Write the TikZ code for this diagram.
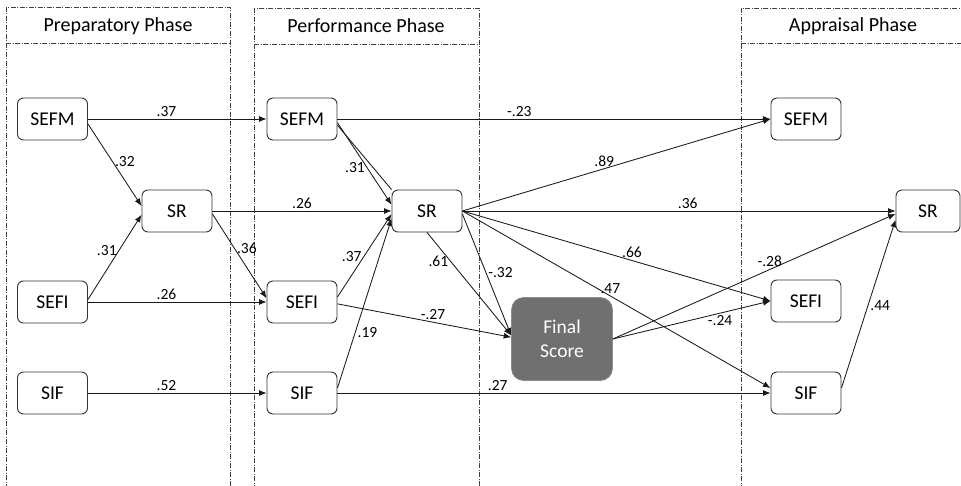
\documentclass[tikz,border=0pt]{standalone}
\usepackage{fontspec}
\setmainfont{Carlito}
\usetikzlibrary{arrows.meta}
\begin{document}
\begin{tikzpicture}[x=1pt,y=-1pt,
  phase/.style={draw=black!75, line width=0.8pt, dash pattern=on 5pt off 1.5pt on 1pt off 1.5pt},
  var/.style={draw=black!80, line width=0.9pt, rounded corners=6pt, minimum width=70pt, minimum height=42pt, inner sep=0pt, font=\fontsize{19.5}{23}\selectfont, text=black},
  fin/.style={draw=black!45, fill={rgb,255:red,112;green,112;blue,112}, line width=0.6pt, rounded corners=12pt, minimum width=101pt, minimum height=83pt, inner sep=0pt, align=center, font=\fontsize{19.5}{23.5}\selectfont, text=white},
  arr/.style={draw=black!90, line width=0.85pt, -{Latex[length=7.5pt,width=6pt]}},
  plain/.style={draw=black!90, line width=0.85pt},
  lbl/.style={font=\fontsize{15.5}{18}\selectfont, inner sep=2pt, text=black},
  hdr/.style={font=\fontsize{20}{24}\selectfont, text=black, inner sep=0pt}
]
\useasboundingbox (0,0) rectangle (961,486);
% phase frames
\draw[phase] (6,7) rectangle (230,490);
\draw[phase] (6,43) -- (230,43);
\draw[phase] (254,8) rectangle (479,490);
\draw[phase] (254,44) -- (479,44);
\draw[phase] (741,8) rectangle (970,490);
\draw[phase] (741,43) -- (970,43);
\node[hdr] (hPrep) at (118,26) {Preparatory Phase};
\node[hdr] (hPerf) at (366,26) {Performance Phase};
\node[hdr] (hApp) at (853,26) {Appraisal Phase};
% nodes
\node[var] (pSEFM) at (52.5,119) {SEFM};
\node[var] (pSR) at (177,211) {SR};
\node[var] (pSEFI) at (52.5,302) {SEFI};
\node[var] (pSIF) at (52.5,393) {SIF};
\node[var] (qSEFM) at (302,119) {SEFM};
\node[var] (qSR) at (427,211) {SR};
\node[var] (qSEFI) at (302,302) {SEFI};
\node[var] (qSIF) at (302,393) {SIF};
\node[fin] (fin) at (562,339) {Final\\Score};
\node[var] (aSEFM) at (806,119) {SEFM};
\node[var, minimum width=64pt] (aSR) at (928,211) {SR};
\node[var] (aSEFI) at (806,301) {SEFI};
\node[var] (aSIF) at (806,393) {SIF};
% edges
\draw[arr] (pSEFM.east) -- node[lbl,pos=0.44,above] (l1) {.37} (qSEFM.west);
\draw[arr] (pSEFM.-8) -- node[lbl,pos=0.46,right] (l2) {.32} (pSR.172);
\draw[arr] (pSEFI.4) -- node[lbl,pos=0.58,left] (l3) {.31} (pSR.186);
\draw[arr] (pSEFI.east) -- node[lbl,pos=0.44,above] (l4) {.26} (qSEFI.west);
\draw[arr] (pSR.east) -- node[lbl,pos=0.5,above] (l5) {.26} (qSR.west);
\draw[arr] (pSR.-5) -- node[lbl,pos=0.41,right] (l6) {.36} (qSEFI.174);
\draw[arr] (pSIF.east) -- node[lbl,pos=0.44,above] (l7) {.52} (qSIF.west);
\draw[arr] (qSEFM.-6) -- node[lbl,pos=0.55,left] (l8) {.31} (qSR.170);
\draw[plain] (qSEFM.-10) -- (qSR.north west);
\draw[arr] (qSEFI.8) -- node[lbl,pos=0.49,left] (l9) {.37} (qSR.185);
\draw[arr] (qSIF.8) -- node[lbl,pos=0.33,right] (l10) {.19} (qSR.192);
\draw[arr] (qSEFI.-3) -- node[lbl,pos=0.55,above] (l11) {-.27} (fin.178);
\draw[arr] (qSR.south) -- node[lbl,pos=0.28,left] (l12) {.61} (fin.176);
\draw[arr] (qSR.-5) -- node[lbl,pos=0.48,right] (l13) {-.32} (fin.176);
\draw[arr] (qSEFM.east) -- node[lbl,pos=0.42,above] (l14) {-.23} (aSEFM.west);
\draw[arr] (qSR.east) -- node[lbl,pos=0.46,above] (l15) {.89} (aSEFM.west);
\draw[arr] (qSR.east) -- node[lbl,pos=0.52,above] (l16) {.36} (aSR.west);
\draw[arr] (qSR.east) -- node[lbl,pos=0.55,above] (l17) {.66} (aSEFI.west);
\draw[arr] (qSR.east) -- node[lbl,pos=0.48,above] (l18) {.47} (aSIF.172);
\draw[arr] (fin.east) -- node[lbl,pos=0.555,above] (l19) {-.28} (aSR.185);
\draw[arr] (fin.east) -- node[lbl,pos=0.68,below] (l20) {-.24} (aSEFI.west);
\draw[arr] (qSIF.east) -- node[lbl,pos=0.37,above] (l21) {.27} (aSIF.west);
\draw[arr] (aSIF.8) -- node[lbl,pos=0.49,right] (l22) {.44} (aSR.195);
\end{tikzpicture}
\end{document}
